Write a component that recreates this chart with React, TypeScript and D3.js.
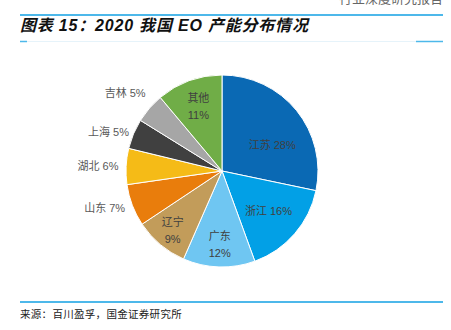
import React from "react";
import * as d3 from "d3";

const regions = ["江苏", "浙江", "广东", "辽宁", "山东", "湖北", "上海", "吉林", "其他"];
const shares = [28, 16, 12, 9, 7, 6, 5, 5, 11];
const colors = ["#0a69b4", "#02a0e6", "#6fc6f2", "#c29c5a", "#e97d0c", "#f5bb17", "#404040", "#a6a6a6", "#70ad47"];
const inside = [true, true, true, true, false, false, false, false, true];
const twoLine = [false, false, true, true, false, false, false, false, true];

// layout-only tweaks for label placement (radius factor, dx, dy)
const labelLayout: Record<string, [number, number, number]> = {
  江苏: [0.62, 4, 12],
  浙江: [0.64, 0, 0],
  广东: [0.76, 0, 0],
  辽宁: [0.8, 0, 0],
  其他: [0.72, 0, 0],
  山东: [1.08, 0, 0],
  湖北: [1.08, 0, 0],
  上海: [1.05, 0, 0],
  吉林: [1.08, 2, -10],
};

const W = 451;
const H = 330;
const cx = 222;
const cy = 171;
const R = 96;

export default function App() {
  const pie = d3.pie<number>().sort(null).value((d) => d);
  const arcs = pie(shares);
  const arcGen = d3.arc<d3.PieArcDatum<number>>().innerRadius(0).outerRadius(R);
  const font = "'Liberation Sans', 'Noto Sans CJK SC', sans-serif";
  return (
    <svg width={W} height={H} style={{ position: "absolute", left: 0, top: 0, background: "#fff" }}>
      <text x={443} y={3} textAnchor="end" fontSize={13} fill="#666" fontFamily="'Noto Sans CJK SC', sans-serif">行业深度研究报告</text>
      <line x1={20} x2={443} y1={15} y2={15} stroke="#4db8ea" strokeWidth={2} />
      <text x={20} y={31} fontSize={16} letterSpacing={0.8} fontWeight="bold" fontStyle="italic" fill="#111" fontFamily="'Liberation Sans', 'Noto Sans CJK SC', sans-serif">
        图表 15：2020 我国 EO 产能分布情况
      </text>
      <line x1={20} x2={443} y1={41.5} y2={41.5} stroke="#e6f3fa" strokeWidth={1} />
      <line x1={20} x2={27} y1={41.5} y2={41.5} stroke="#4db8ea" strokeWidth={1.5} />
      <line x1={416} x2={443} y1={41.5} y2={41.5} stroke="#4db8ea" strokeWidth={1.5} />
      <g transform={`translate(${cx},${cy})`}>
        {arcs.map((a, i) => (
          <path key={regions[i]} d={arcGen(a) || ""} fill={colors[i]} stroke="#fff" strokeWidth={1} />
        ))}
        {arcs.map((a, i) => {
          const name = regions[i];
          const [f, dx, dy] = labelLayout[name];
          const lr = R * f;
          const [x, y] = d3.arc<d3.PieArcDatum<number>>().innerRadius(lr).outerRadius(lr).centroid(a);
          const label = `${name} ${shares[i]}%`;
          if (!inside[i]) {
            return (
              <text key={name} x={x + dx} y={y + dy + 4} textAnchor="end" fontSize={11} fill="#595959" fontFamily={font}>
                {label}
              </text>
            );
          }
          if (twoLine[i]) {
            return (
              <text key={name} x={x + dx} y={y + dy} textAnchor="middle" fontSize={11} fill="#404040" fontFamily={font}>
                <tspan x={x + dx} dy={-4}>{name}</tspan>
                <tspan x={x + dx} dy={17}>{`${shares[i]}%`}</tspan>
              </text>
            );
          }
          return (
            <text key={name} x={x + dx} y={y + dy + 4} textAnchor="middle" fontSize={11} fill="#404040" fontFamily={font}>
              {label}
            </text>
          );
        })}
      </g>
      <line x1={20} x2={443} y1={302} y2={302} stroke="#4db8ea" strokeWidth={2} />
      <text x={20} y={318} fontSize={10.5} letterSpacing={0.3} fill="#222" fontFamily="'Noto Sans CJK SC', serif">
        来源：百川盈孚，国金证券研究所
      </text>
    </svg>
  );
}
